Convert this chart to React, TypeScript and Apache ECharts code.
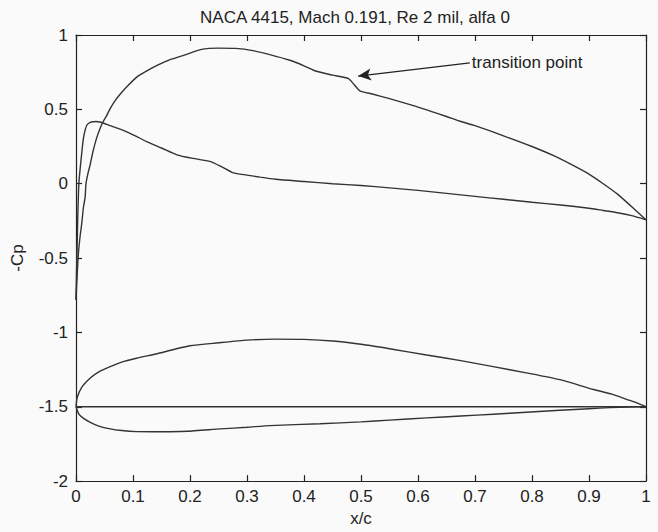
import React, { useEffect, useRef } from "react";
import * as echarts from "echarts";

// Suction-side pressure coefficient (-Cp) along the chord
const upperX = [0, 0.002, 0.004, 0.007, 0.01, 0.013, 0.016, 0.0175, 0.021, 0.025, 0.03, 0.036, 0.042, 0.048, 0.054, 0.06, 0.068, 0.077, 0.09, 0.106, 0.125, 0.145, 0.165, 0.19, 0.22, 0.25, 0.28, 0.31, 0.34, 0.375, 0.4, 0.422, 0.45, 0.478, 0.488, 0.498, 0.52, 0.55, 0.592, 0.62, 0.65, 0.674, 0.7, 0.75, 0.8, 0.84, 0.867, 0.9, 0.925, 0.95, 0.975, 1.0];
const upperCp = [-0.78, -0.62, -0.48, -0.36, -0.27, -0.16, -0.09, 0.0, 0.07, 0.13, 0.22, 0.305, 0.37, 0.42, 0.46, 0.505, 0.555, 0.6, 0.655, 0.715, 0.76, 0.8, 0.834, 0.865, 0.903, 0.912, 0.91, 0.895, 0.868, 0.83, 0.793, 0.756, 0.73, 0.707, 0.666, 0.625, 0.603, 0.572, 0.525, 0.49, 0.452, 0.42, 0.39, 0.322, 0.25, 0.185, 0.133, 0.065, 0.0, -0.07, -0.155, -0.243];

// Pressure-side -Cp along the chord
const lowerX = [0, 0.001, 0.002, 0.003, 0.005, 0.008, 0.011, 0.013, 0.016, 0.019, 0.023, 0.027, 0.035, 0.042, 0.05, 0.06, 0.075, 0.089, 0.105, 0.124, 0.15, 0.177, 0.205, 0.235, 0.255, 0.276, 0.3, 0.323, 0.35, 0.4, 0.45, 0.5, 0.55, 0.6, 0.65, 0.7, 0.75, 0.8, 0.85, 0.9, 0.925, 0.95, 0.975, 1.0];
const lowerCp = [-0.78, -0.58, -0.42, -0.245, 0.0, 0.128, 0.24, 0.305, 0.36, 0.393, 0.408, 0.415, 0.418, 0.415, 0.405, 0.39, 0.37, 0.349, 0.32, 0.283, 0.24, 0.194, 0.17, 0.15, 0.115, 0.073, 0.058, 0.044, 0.03, 0.015, 0.0, -0.012, -0.028, -0.045, -0.065, -0.085, -0.105, -0.125, -0.143, -0.165, -0.18, -0.195, -0.215, -0.243];

// Airfoil outline, drawn below the Cp curves (offset to -1.5)
const foilUpperX = [0, 0.002, 0.01, 0.025, 0.04, 0.06, 0.08, 0.106, 0.14, 0.2, 0.25, 0.3, 0.35, 0.4, 0.45, 0.5, 0.55, 0.615, 0.675, 0.732, 0.79, 0.849, 0.908, 0.94, 0.966, 0.985, 1.0];
const foilUpperY = [-1.5, -1.44, -1.37, -1.307, -1.265, -1.23, -1.2, -1.174, -1.145, -1.09, -1.07, -1.052, -1.045, -1.047, -1.058, -1.08, -1.11, -1.152, -1.19, -1.23, -1.272, -1.318, -1.384, -1.415, -1.45, -1.475, -1.5];
const foilLowerX = [0, 0.005, 0.012, 0.025, 0.04, 0.06, 0.08, 0.106, 0.15, 0.194, 0.253, 0.3, 0.34, 0.428, 0.5, 0.55, 0.615, 0.675, 0.732, 0.79, 0.849, 0.9, 0.937, 0.97, 1.0];
const foilLowerY = [-1.5, -1.55, -1.575, -1.605, -1.63, -1.649, -1.66, -1.667, -1.668, -1.665, -1.649, -1.638, -1.627, -1.614, -1.602, -1.59, -1.575, -1.562, -1.55, -1.537, -1.524, -1.513, -1.506, -1.502, -1.5];
const chordX = [0, 1];
const chordY = [-1.5, -1.5];

// Annotation arrow (data coordinates)
const arrowFrom = [0.691, 0.813];
const arrowTo = [0.495, 0.724];

const xTickValues = [0, 0.1, 0.2, 0.3, 0.4, 0.5, 0.6, 0.7, 0.8, 0.9, 1];
const yTickValues = [-2, -1.5, -1, -0.5, 0, 0.5, 1];

const FONT = "'Liberation Sans', Arial, sans-serif";
const INK = "#222";
const LINE = "#333";

const pairs = (xs: number[], ys: number[]) => xs.map((x, i) => [x, ys[i]]);

export default function App() {
  const ref = useRef<HTMLDivElement>(null);

  useEffect(() => {
    if (!ref.current) return;
    const chart = echarts.init(ref.current, undefined, { renderer: "svg" });

    const baseAxis = {
      type: "value" as const,
      axisLine: { show: true, onZero: false, lineStyle: { color: INK, width: 1.2 } },
      axisTick: { show: true, inside: true, length: 6, lineStyle: { color: INK, width: 1.2 } },
      splitLine: { show: false },
    };

    const lineSeries = (name: string, xs: number[], ys: number[], extra: any = {}) => ({
      name,
      type: "line",
      data: pairs(xs, ys),
      showSymbol: false,
      symbol: "none",
      smooth: 0.2,
      lineStyle: { color: LINE, width: 1.4 },
      silent: true,
      z: 3,
      ...extra,
    });

    chart.setOption({
      animation: false,
      backgroundColor: "#fafafa",
      textStyle: { fontFamily: FONT },
      title: {
        text: "NACA 4415, Mach 0.191, Re 2 mil, alfa 0",
        left: 350,
        top: 4,
        textAlign: "center",
        textStyle: { fontFamily: FONT, fontSize: 17, fontWeight: "normal", color: INK },
      },
      grid: { left: 76, right: 12, top: 35, bottom: 44 },
      xAxis: [
        {
          ...baseAxis,
          position: "bottom",
          min: xTickValues[0],
          max: xTickValues[xTickValues.length - 1],
          interval: 0.1,
          axisLabel: { color: INK, fontSize: 17, fontFamily: FONT, margin: 7 },
          name: "x/c",
          nameLocation: "middle",
          nameGap: 19,
          nameTextStyle: { color: INK, fontSize: 17, fontFamily: FONT },
        },
        {
          ...baseAxis,
          position: "top",
          min: xTickValues[0],
          max: xTickValues[xTickValues.length - 1],
          interval: 0.1,
          axisLabel: { show: false },
        },
      ],
      yAxis: [
        {
          ...baseAxis,
          position: "left",
          min: yTickValues[0],
          max: yTickValues[yTickValues.length - 1],
          interval: 0.5,
          axisLabel: { color: INK, fontSize: 17, fontFamily: FONT, margin: 8 },
          name: "-Cp",
          nameLocation: "middle",
          nameGap: 50,
          nameRotate: 90,
          nameTextStyle: { color: INK, fontSize: 17, fontFamily: FONT },
        },
        {
          ...baseAxis,
          position: "right",
          min: yTickValues[0],
          max: yTickValues[yTickValues.length - 1],
          interval: 0.5,
          axisLabel: { show: false },
        },
      ],
      series: [
        lineSeries("upper Cp", upperX, upperCp, {
          markLine: {
            silent: true,
            symbol: ["none", "arrow"],
            symbolSize: [9, 13],
            lineStyle: { color: INK, width: 1.3, type: "solid" },
            label: {
              show: true,
              position: "start",
              distance: 2,
              formatter: "transition point",
              color: INK,
              fontSize: 17,
              fontFamily: FONT,
            },
            emphasis: { disabled: true },
            data: [[{ coord: arrowFrom }, { coord: arrowTo }]],
          },
        }),
        lineSeries("lower Cp", lowerX, lowerCp),
        lineSeries("airfoil upper", foilUpperX, foilUpperY),
        lineSeries("airfoil lower", foilLowerX, foilLowerY),
        lineSeries("chord", chordX, chordY, { smooth: false }),
      ],
    });

    return () => chart.dispose();
  }, []);

  return (
    <div
      ref={ref}
      style={{ position: "fixed", left: 0, top: 0, width: 658, height: 532 }}
    />
  );
}
